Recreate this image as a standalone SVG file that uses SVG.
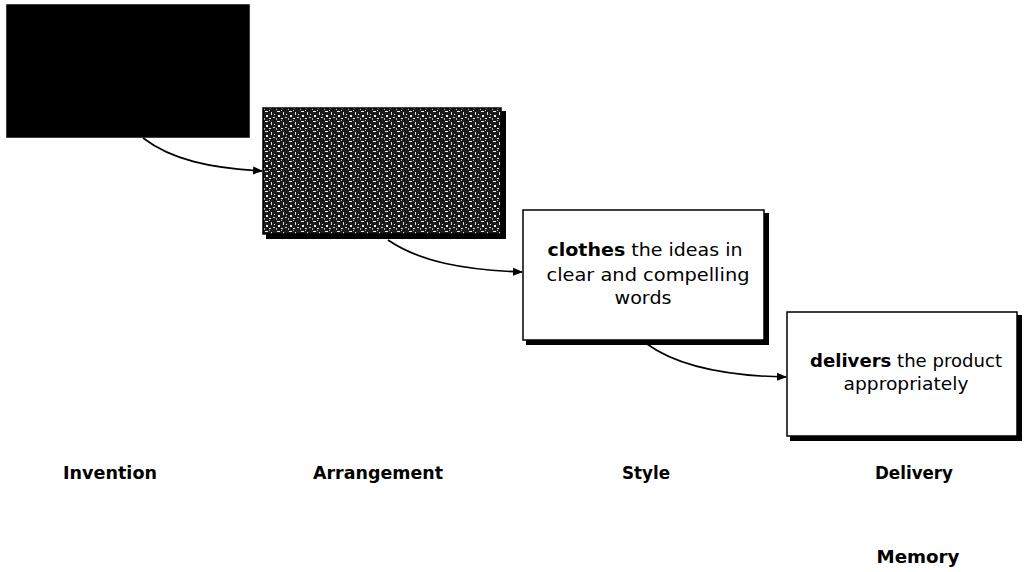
<svg xmlns="http://www.w3.org/2000/svg" width="1024" height="572" viewBox="0 0 1024 572">
<style>
.shadow{fill:#000}
.box{stroke:#000;stroke-width:1.5}
.t{font-family:"DejaVu Sans","Liberation Sans",Arial,sans-serif;font-size:17px;fill:#000;text-anchor:middle}
.lbl{font-family:"DejaVu Sans","Liberation Sans",Arial,sans-serif;font-size:17px;font-weight:bold;fill:#000;text-anchor:middle}
.conn{fill:none;stroke:#000;stroke-width:1.6}
</style>
<defs>
<marker id="ah" markerWidth="10" markerHeight="10" refX="9" refY="5" orient="auto" markerUnits="userSpaceOnUse">
<path d="M0,1 L10,5 L0,9 Z" fill="#000"/>
</marker>
<pattern id="noise" width="12" height="10" patternUnits="userSpaceOnUse">
<rect width="12" height="10" fill="#1a1a1a"/>
<rect x="1" y="1" width="3" height="1" fill="#eee"/>
<rect x="7" y="2" width="1" height="3" fill="#ddd"/>
<rect x="2" y="5" width="2" height="2" fill="#f4f4f4"/>
<rect x="9" y="7" width="2" height="1" fill="#ccc"/>
<rect x="5" y="0" width="1" height="1" fill="#bbb"/>
<rect x="10" y="4" width="1" height="1" fill="#fff"/>
<rect x="5" y="8" width="2" height="1" fill="#e5e5e5"/>
<rect x="0" y="8" width="1" height="2" fill="#aaa"/>
</pattern>
</defs>
<rect width="1024" height="572" fill="#fff"/>
<g id="node-invention">
<rect x="7" y="5" width="242" height="132" fill="#000" class="box"/>
</g>
<g id="node-arrangement">
<rect x="266" y="111" width="240" height="128" class="shadow"/>
<rect x="263" y="108" width="238" height="126" fill="url(#noise)" class="box"/>
</g>
<g id="node-style">
<rect x="526" y="213" width="243" height="132" class="shadow"/>
<rect x="523" y="210" width="241" height="130" fill="#fff" class="box"/>
<text class="t" x="645" y="256" textLength="195" lengthAdjust="spacingAndGlyphs"><tspan font-weight="bold">clothes</tspan> the ideas in</text>
<text class="t" x="648" y="281" textLength="203" lengthAdjust="spacingAndGlyphs">clear and compelling</text>
<text class="t" x="643" y="304" textLength="57" lengthAdjust="spacingAndGlyphs">words</text>
</g>
<g id="node-delivery">
<rect x="790" y="315" width="232" height="126" class="shadow"/>
<rect x="787" y="312" width="230" height="124" fill="#fff" class="box"/>
<text class="t" x="906" y="367" textLength="192" lengthAdjust="spacingAndGlyphs"><tspan font-weight="bold">delivers</tspan> the product</text>
<text class="t" x="906" y="390" textLength="125" lengthAdjust="spacingAndGlyphs">appropriately</text>
</g>
<g id="connectors">
<path class="conn" d="M143,138 C172,160 210,168 262,171" marker-end="url(#ah)"/>
<path class="conn" d="M388,240 C420,262 465,270 522,272" marker-end="url(#ah)"/>
<path class="conn" d="M647,344 C680,368 730,376 786,377" marker-end="url(#ah)"/>
</g>
<g id="labels">
<text class="lbl" x="110" y="479" textLength="94" lengthAdjust="spacingAndGlyphs">Invention</text>
<text class="lbl" x="378" y="479" textLength="130" lengthAdjust="spacingAndGlyphs">Arrangement</text>
<text class="lbl" x="646" y="479" textLength="48" lengthAdjust="spacingAndGlyphs">Style</text>
<text class="lbl" x="914" y="479" textLength="78" lengthAdjust="spacingAndGlyphs">Delivery</text>
<text class="lbl" x="918" y="563" textLength="83" lengthAdjust="spacingAndGlyphs">Memory</text>
</g>
</svg>
